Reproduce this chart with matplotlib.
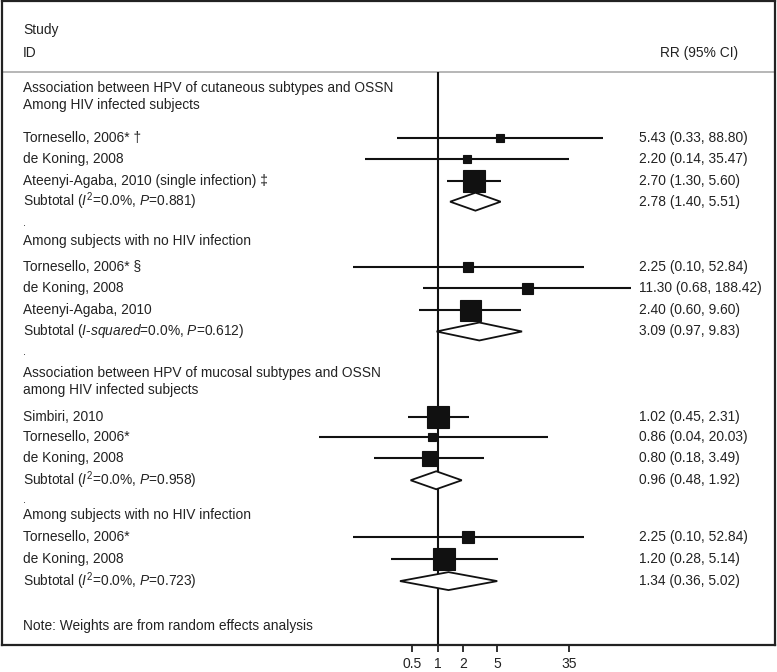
import numpy as np
import matplotlib
matplotlib.use("Agg")
from matplotlib import pyplot as plt
from matplotlib.transforms import blended_transform_factory

plt.rcParams['font.family'] = ['Liberation Sans', 'DejaVu Sans']
plt.rcParams['mathtext.fontset'] = 'custom'
plt.rcParams['mathtext.rm'] = 'Liberation Sans'
plt.rcParams['mathtext.it'] = 'Liberation Sans:italic'

# ---- data ----
g1_labels = ["Tornesello, 2006* \u2020", "de Koning, 2008", "Ateenyi-Agaba, 2010 (single infection) \u2021"]
g1_rr = [5.43, 2.20, 2.70]
g1_lo = [0.33, 0.14, 1.30]
g1_hi = [88.80, 35.47, 5.60]
g1_w = [8.5, 8, 23]
g1_sub = (2.78, 1.40, 5.51)
g1_sub_label = "Subtotal ($I^2$=0.0%, $P$=0.881)"

g2_labels = ["Tornesello, 2006* \u00a7", "de Koning, 2008", "Ateenyi-Agaba, 2010"]
g2_rr = [2.25, 11.30, 2.40]
g2_lo = [0.10, 0.68, 0.60]
g2_hi = [52.84, 188.42, 9.60]
g2_w = [10.5, 11, 21]
g2_sub = (3.09, 0.97, 9.83)
g2_sub_label = "Subtotal ($I$-$squared$=0.0%, $P$=0.612)"

g3_labels = ["Simbiri, 2010", "Tornesello, 2006*", "de Koning, 2008"]
g3_rr = [1.02, 0.86, 0.80]
g3_lo = [0.45, 0.04, 0.18]
g3_hi = [2.31, 20.03, 3.49]
g3_w = [23, 8, 15]
g3_sub = (0.96, 0.48, 1.92)
g3_sub_label = "Subtotal ($I^2$=0.0%, $P$=0.958)"

g4_labels = ["Tornesello, 2006*", "de Koning, 2008"]
g4_rr = [2.25, 1.20]
g4_lo = [0.10, 0.28]
g4_hi = [52.84, 5.14]
g4_w = [12, 22]
g4_sub = (1.34, 0.36, 5.02)
g4_sub_label = "Subtotal ($I^2$=0.0%, $P$=0.723)"

tick_vals = [0.5, 1, 2, 5, 35]
tick_labels = ["0.5", "1", "2", "5", "35"]

# ---- layout (pixel rows, top = 0) ----
W, H = 777, 672
frame_l, frame_r, frame_b = 2, 775, 645
px_per_ln = 36.9
x_one = 437.7
sep_y = 71

groups = [
    (["Association between HPV of cutaneous subtypes and OSSN", "Among HIV infected subjects"], [87, 104],
     g1_labels, g1_rr, g1_lo, g1_hi, g1_w, [137, 158, 180], g1_sub, g1_sub_label, 201, 222),
    (["Among subjects with no HIV infection"], [240],
     g2_labels, g2_rr, g2_lo, g2_hi, g2_w, [266, 287, 309], g2_sub, g2_sub_label, 331, 352),
    (["Association between HPV of mucosal subtypes and OSSN", "among HIV infected subjects"], [373, 390],
     g3_labels, g3_rr, g3_lo, g3_hi, g3_w, [417, 437, 458], g3_sub, g3_sub_label, 480, 500),
    (["Among subjects with no HIV infection"], [515],
     g4_labels, g4_rr, g4_lo, g4_hi, g4_w, [537, 559], g4_sub, g4_sub_label, 581, None),
]

fig = plt.figure(figsize=(W / 100, H / 100), dpi=100)
ax = fig.add_axes([frame_l / W, 1 - frame_b / H, (frame_r - frame_l) / W, frame_b / H - 0.0015])
ax.set_xscale('log')
ax.set_xlim(np.exp((frame_l - x_one) / px_per_ln), np.exp((frame_r - x_one) / px_per_ln))
ax.set_ylim(frame_b, 0)

for s in ax.spines.values():
    s.set_linewidth(1.6)
    s.set_color('#222222')

ax.set_xticks(tick_vals)
ax.set_xticklabels(tick_labels)
ax.xaxis.set_minor_locator(matplotlib.ticker.NullLocator())
ax.tick_params(axis='x', direction='out', length=5, width=1.3, labelsize=10, pad=4, colors='#222222')
ax.set_yticks([])

tr = blended_transform_factory(ax.transAxes, ax.transData)
lx = (23 - frame_l) / (frame_r - frame_l)
rx = (639 - frame_l) / (frame_r - frame_l)
fs = 9.95
tc = '#222222'

ax.text(lx, 29, "Study", transform=tr, fontsize=fs, va='center', color=tc)
ax.text(lx, 52, "ID", transform=tr, fontsize=fs, va='center', color=tc)
ax.text((660 - frame_l) / (frame_r - frame_l), 52, "RR (95% CI)", transform=tr, fontsize=fs, va='center', color=tc)
ax.axhline(sep_y, color='#aaaaaa', lw=1.2)
ax.vlines(1, sep_y, frame_b, color='#111111', lw=1.5)

for heads, head_y, labels, rr, lo, hi, w, ys, sub, sub_label, sub_y, dot_y in groups:
    for h, y in zip(heads, head_y):
        ax.text(lx, y, h, transform=tr, fontsize=fs, va='center', color=tc)
    for lab, r, a, b, m, y in zip(labels, rr, lo, hi, w, ys):
        ax.text(lx, y, lab, transform=tr, fontsize=fs, va='center', color=tc)
        ax.plot([a, b], [y, y], color='#111111', lw=1.5, solid_capstyle='butt', zorder=3)
        ax.plot(r, y, marker='s', ms=m * 0.72, color='#111111', mec='#111111', mew=0.8, zorder=4)
        ax.text(rx, y, f"{r:.2f} ({a:.2f}, {b:.2f})", transform=tr, fontsize=fs, va='center', color=tc)
    r, a, b = sub
    ax.text(lx, sub_y, sub_label, transform=tr, fontsize=fs, va='center', color=tc)
    ax.fill([a, r, b, r, a], [sub_y, sub_y - 9, sub_y, sub_y + 9, sub_y], facecolor='white',
            edgecolor='#111111', lw=1.3, zorder=5)
    ax.text(rx, sub_y, f"{r:.2f} ({a:.2f}, {b:.2f})", transform=tr, fontsize=fs, va='center', color=tc)
    if dot_y is not None:
        ax.text(lx, dot_y, ".", transform=tr, fontsize=fs - 2, va='center', color=tc)

ax.text(lx, 626, "Note: Weights are from random effects analysis", transform=tr, fontsize=fs, va='center', color=tc)

fig.savefig("out.png", dpi=100)
